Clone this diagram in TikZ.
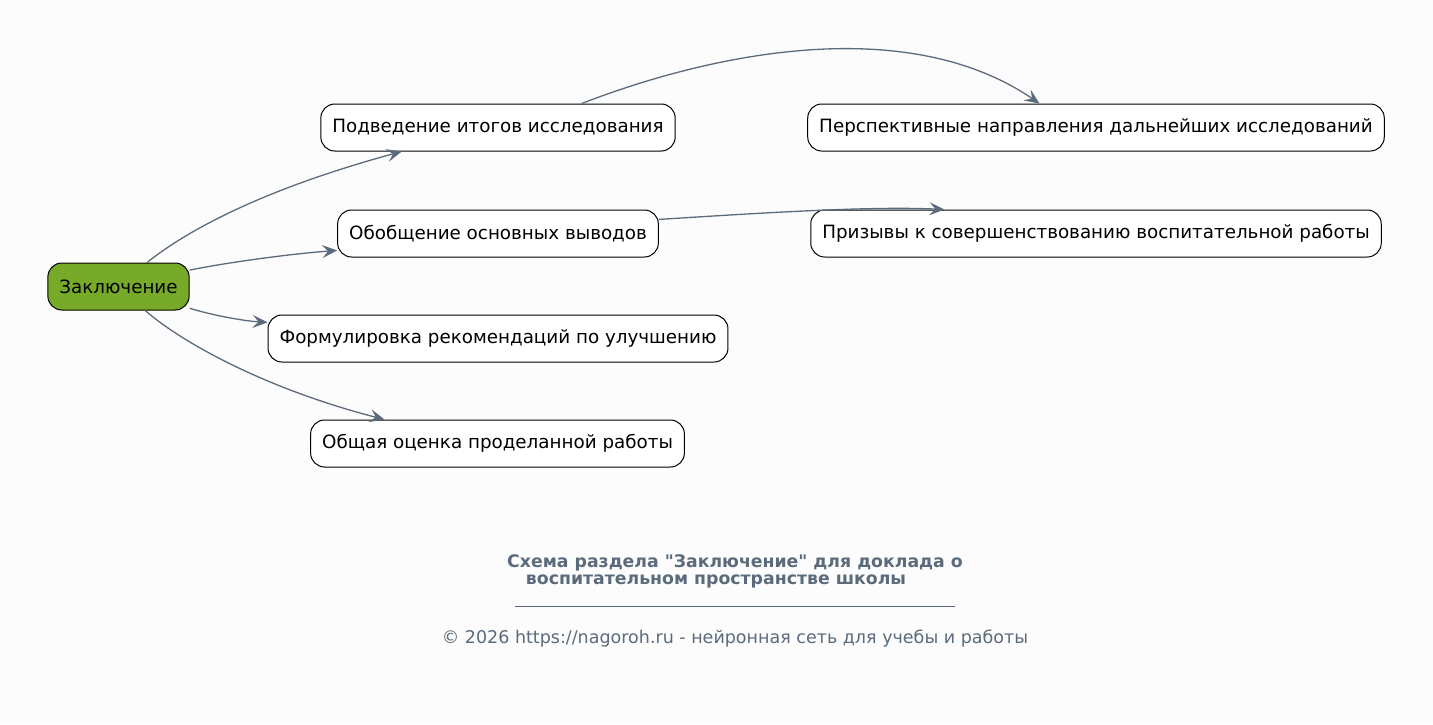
\documentclass[tikz,border=0pt]{standalone}
\usepackage{fontspec}
\setmainfont{DejaVu Sans}[Ligatures=TeXOff]
\usetikzlibrary{arrows.meta,positioning}
\definecolor{RootGreen}{RGB}{119,170,41}
\definecolor{EdgeSlate}{RGB}{91,107,123}
\definecolor{PageWhite}{RGB}{252,252,252}

\begin{document}
\begin{tikzpicture}[x=1pt,y=-1pt,
    topic/.style={draw=black,line width=1pt,rounded corners=14pt,fill=white,
      minimum height=47pt,inner xsep=11.5pt,font=\fontsize{18.3}{20}\selectfont},
    rootbox/.style={topic,fill=RootGreen},
    link/.style={EdgeSlate,line width=1.3pt,
      -{Stealth[length=15pt,width=13pt,inset=6pt]}},
    caption/.style={EdgeSlate,font=\fontsize{17.3}{19}\selectfont\bfseries}
  ]
  \fill[PageWhite] (0,0) rectangle (1433,724);
  \useasboundingbox (0,0) rectangle (1433,724);
  % nodes
  \node[rootbox] (concl) at (118.5,286.5) {Заключение};
  \node[topic] (summary) at (498,127.5) {Подведение итогов исследования};
  \node[topic] (mainres) at (498,233.5) {Обобщение основных выводов};
  \node[topic] (recom) at (498,338.5) {Формулировка рекомендаций по улучшению};
  \node[topic] (overall) at (497.5,443.5) {Общая оценка проделанной работы};
  \node[topic] (future) at (1096,127.5) {Перспективные направления дальнейших исследований};
  \node[topic] (appeal) at (1096,233.5) {Призывы к совершенствованию воспитательной работы};
  % connectors
  \draw[link] (concl.40) .. controls (185,232) and (260,190) .. (summary.194);
  \draw[link] (concl.13) .. controls (230,262) and (290,254) .. (mainres.186);
  \draw[link] (concl.-17) .. controls (215,316) and (245,321) .. (recom.176);
  \draw[link] (concl.-42) .. controls (185,345) and (270,390) .. (overall.168);
  \draw[link] (summary.16) .. controls (720,50) and (910,15) .. (future.157);
  \draw[link] (mainres.5) .. controls (760,213) and (870,206) .. (appeal.171);
  % caption
  \node[caption] (title1) at (735,563) {Схема раздела "Заключение" для доклада о};
  \node[caption] (title2) at (716,581) {воспитательном пространстве школы};
  \draw[EdgeSlate,line width=0.8pt] (515,606) -- (955,606);
  \node[EdgeSlate,font=\fontsize{17.5}{19}\selectfont] (credit) at (735,639)
    {© 2026 https://nagoroh.ru - нейронная сеть для учебы и работы};
\end{tikzpicture}
\end{document}
